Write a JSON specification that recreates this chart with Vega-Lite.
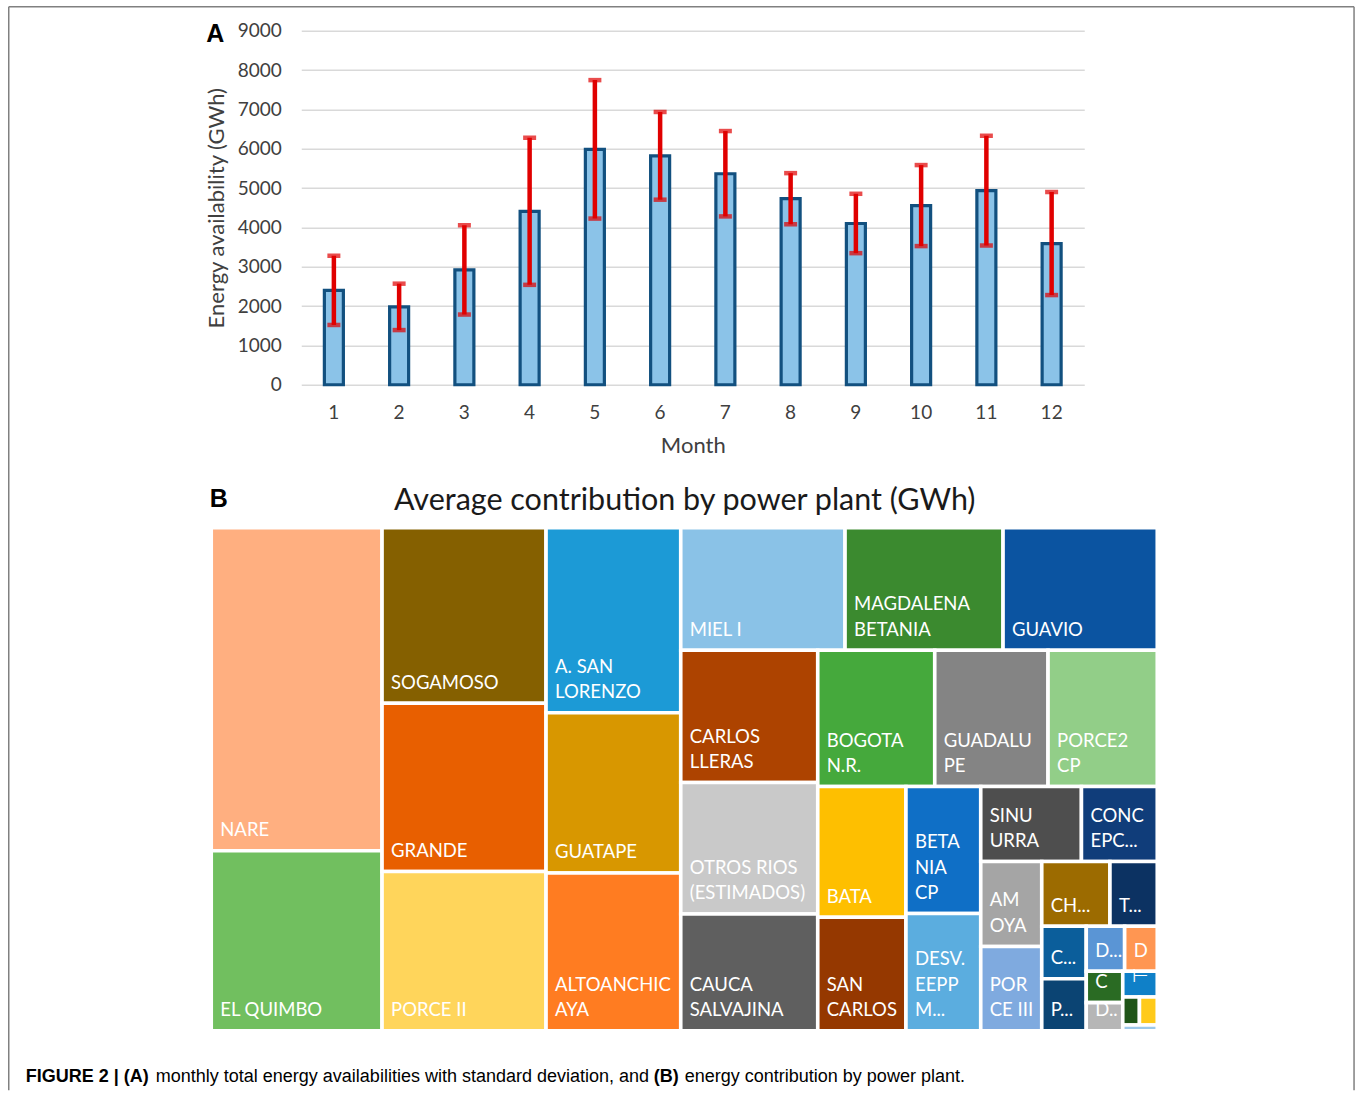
{
  "$schema": "https://vega.github.io/schema/vega-lite/v6.json",
  "background": "white",
  "padding": {"left": 7.25, "top": 5.75, "right": 0, "bottom": 0},
  "autosize": {"type": "pad"},
  "config": {"view": {"stroke": null}, "font": "Lato"},
  "bounds": "flush",
  "spacing": 497,
  "vconcat": [
    {
      "bounds": "flush",
      "spacing": 0,
      "hconcat": [
        {
          "width": 90,
          "height": 354,
          "data": {"values": []},
          "mark": "point",
          "encoding": {}
        },
        {
          "width": 783,
          "height": 354,
          "title": {
            "text": "A",
            "anchor": "start",
            "frame": "bounds",
            "font": "Liberation Sans",
            "fontSize": 25,
            "fontWeight": "bold",
            "color": "#000000",
            "dx": 1,
            "dy": 29
          },
          "data": {
            "values": [
              {"month": 1, "energy": 2400, "sd": 880},
              {"month": 2, "energy": 1980, "sd": 590},
              {"month": 3, "energy": 2920, "sd": 1135},
              {"month": 4, "energy": 4410, "sd": 1870},
              {"month": 5, "energy": 5985, "sd": 1760},
              {"month": 6, "energy": 5820, "sd": 1115},
              {"month": 7, "energy": 5365, "sd": 1085},
              {"month": 8, "energy": 4730, "sd": 650},
              {"month": 9, "energy": 4100, "sd": 755},
              {"month": 10, "energy": 4555, "sd": 1030},
              {"month": 11, "energy": 4935, "sd": 1395},
              {"month": 12, "energy": 3590, "sd": 1310}
            ]
          },
          "encoding": {
            "x": {
              "field": "month",
              "type": "ordinal",
              "scale": {"paddingInner": 0.6, "paddingOuter": 0.3},
              "axis": {
                "title": "Month",
                "labelAngle": 0,
                "labelFont": "Lato",
                "labelFontSize": 19,
                "labelColor": "#404040",
                "labelPadding": 19,
                "ticks": false,
                "domain": false,
                "titleFont": "Lato",
                "titleFontSize": 22,
                "titleFontWeight": "normal",
                "titleColor": "#404040",
                "titlePadding": 13
              }
            },
            "y": {
              "field": "energy",
              "type": "quantitative",
              "scale": {"domain": [0, 9000], "nice": false},
              "axis": {
                "title": "Energy availability (GWh)",
                "values": [0, 1000, 2000, 3000, 4000, 5000, 6000, 7000, 8000, 9000],
                "format": "d",
                "labelFont": "Lato",
                "labelFontSize": 19,
                "labelColor": "#404040",
                "labelPadding": 20,
                "ticks": false,
                "domain": false,
                "grid": true,
                "gridColor": "#D9D9D9",
                "gridWidth": 1.6,
                "titleFont": "Lato",
                "titleFontSize": 22,
                "titleFontWeight": "normal",
                "titleColor": "#404040",
                "titlePadding": 9
              }
            }
          },
          "layer": [
            {
              "mark": {"type": "bar", "width": 19, "fill": "#8BC3E8", "stroke": "#12507F", "strokeWidth": 3.2}
            },
            {
              "mark": {"type": "errorbar", "ticks": true, "size": 13, "thickness": 4.5, "color": "#E00000"},
              "encoding": {"yError": {"field": "sd"}}
            }
          ]
        }
      ]
    },
    {
      "width": 946,
      "height": 503,
      "data": {
        "values": [
          {"key": "NARE", "label": "NARE", "x0": 0, "x1": 18.055, "y0": 0, "y1": 64.215},
          {"key": "EL QUIMBO", "label": "EL QUIMBO", "x0": 0, "x1": 18.055, "y0": 64.215, "y1": 100},
          {"key": "SOGAMOSO", "label": "SOGAMOSO", "x0": 18.055, "x1": 35.391, "y0": 0, "y1": 34.891},
          {"key": "GRANDE", "label": "GRANDE", "x0": 18.055, "x1": 35.391, "y0": 34.891, "y1": 68.35},
          {"key": "PORCE II", "label": "PORCE II", "x0": 18.055, "x1": 35.391, "y0": 68.35, "y1": 100},
          {"key": "A. SAN LORENZO", "label": "A. SAN\nLORENZO", "x0": 35.391, "x1": 49.63, "y0": 0, "y1": 36.779},
          {"key": "GUATAPE", "label": "GUATAPE", "x0": 35.391, "x1": 49.63, "y0": 36.779, "y1": 68.628},
          {"key": "ALTOANCHICAYA", "label": "ALTOANCHIC\nAYA", "x0": 35.391, "x1": 49.63, "y0": 68.628, "y1": 100},
          {"key": "MIEL I", "label": "MIEL I", "x0": 49.63, "x1": 66.998, "y0": 0, "y1": 24.354},
          {"key": "MAGDALENA BETANIA", "label": "MAGDALENA\nBETANIA", "x0": 66.998, "x1": 83.7, "y0": 0, "y1": 24.354},
          {"key": "GUAVIO", "label": "GUAVIO", "x0": 83.7, "x1": 100, "y0": 0, "y1": 24.354},
          {"key": "CARLOS LLERAS", "label": "CARLOS\nLLERAS", "x0": 49.63, "x1": 64.112, "y0": 24.354, "y1": 50.656},
          {"key": "OTROS RIOS", "label": "OTROS RIOS\n(ESTIMADOS)", "x0": 49.63, "x1": 64.112, "y0": 50.656, "y1": 76.779},
          {"key": "CAUCA SALVAJINA", "label": "CAUCA\nSALVAJINA", "x0": 49.63, "x1": 64.112, "y0": 76.779, "y1": 100},
          {"key": "BOGOTA N.R.", "label": "BOGOTA\nN.R.", "x0": 64.112, "x1": 76.48, "y0": 24.354, "y1": 51.451},
          {"key": "GUADALUPE", "label": "GUADALU\nPE", "x0": 76.48, "x1": 88.457, "y0": 24.354, "y1": 51.451},
          {"key": "PORCE2 CP", "label": "PORCE2\nCP", "x0": 88.457, "x1": 100, "y0": 24.354, "y1": 51.451},
          {"key": "BATA", "label": "BATA", "x0": 64.112, "x1": 73.436, "y0": 51.451, "y1": 77.435},
          {"key": "SAN CARLOS", "label": "SAN\nCARLOS", "x0": 64.112, "x1": 73.436, "y0": 77.435, "y1": 100},
          {"key": "BETANIA CP", "label": "BETA\nNIA\nCP", "x0": 73.436, "x1": 81.342, "y0": 51.451, "y1": 76.7},
          {"key": "DESV. EEPP M", "label": "DESV.\nEEPP\nM...", "x0": 73.436, "x1": 81.342, "y0": 76.7, "y1": 100},
          {"key": "SINU URRA", "label": "SINU\nURRA", "x0": 81.342, "x1": 91.987, "y0": 51.451, "y1": 66.362},
          {"key": "CONC EPC", "label": "CONC\nEPC...", "x0": 91.987, "x1": 100, "y0": 51.451, "y1": 66.362},
          {"key": "AMOYA", "label": "AM\nOYA", "x0": 81.342, "x1": 87.791, "y0": 66.362, "y1": 83.241},
          {"key": "PORCE III", "label": "POR\nCE III", "x0": 81.342, "x1": 87.791, "y0": 83.241, "y1": 100},
          {"key": "CH", "label": "CH...", "x0": 87.791, "x1": 95.0, "y0": 66.362, "y1": 79.225},
          {"key": "T", "label": "T...", "x0": 95.0, "x1": 100, "y0": 66.362, "y1": 79.225},
          {"key": "C1", "label": "C...", "x0": 87.791, "x1": 92.495, "y0": 79.225, "y1": 89.662},
          {"key": "P", "label": "P...", "x0": 87.791, "x1": 92.495, "y0": 89.662, "y1": 100},
          {"key": "D1", "label": "D...", "x0": 92.495, "x1": 96.554, "y0": 79.225, "y1": 88.171},
          {"key": "D2", "label": "D", "x0": 96.554, "x1": 100, "y0": 79.225, "y1": 88.171},
          {"key": "C2", "label": "C", "x0": 92.495, "x1": 96.353, "y0": 88.171, "y1": 94.414},
          {"key": "D3", "label": "D..", "x0": 92.495, "x1": 96.353, "y0": 94.414, "y1": 100},
          {"key": "F", "label": "⊢", "x0": 96.353, "x1": 100, "y0": 88.171, "y1": 93.28},
          {"key": "G", "label": "", "x0": 96.353, "x1": 98.118, "y0": 93.28, "y1": 98.847},
          {"key": "H", "label": "", "x0": 98.118, "x1": 100, "y0": 93.28, "y1": 98.847},
          {"key": "I", "label": "", "x0": 96.353, "x1": 100, "y0": 98.847, "y1": 100}
        ]
      },
      "layer": [
        {
          "mark": {"type": "rect", "stroke": "#FFFFFF", "strokeWidth": 3.6},
          "encoding": {
            "x": {"field": "x0", "type": "quantitative", "scale": {"domain": [0, 100], "nice": false, "zero": false}, "axis": null},
            "x2": {"field": "x1"},
            "y": {"field": "y0", "type": "quantitative", "scale": {"domain": [0, 100], "nice": false, "zero": false, "reverse": true}, "axis": null},
            "y2": {"field": "y1"},
            "color": {
              "field": "key",
              "type": "nominal",
              "legend": null,
              "scale": {
                "domain": ["NARE", "EL QUIMBO", "SOGAMOSO", "GRANDE", "PORCE II", "A. SAN LORENZO", "GUATAPE", "ALTOANCHICAYA", "MIEL I", "MAGDALENA BETANIA", "GUAVIO", "CARLOS LLERAS", "OTROS RIOS", "CAUCA SALVAJINA", "BOGOTA N.R.", "GUADALUPE", "PORCE2 CP", "BATA", "SAN CARLOS", "BETANIA CP", "DESV. EEPP M", "SINU URRA", "CONC EPC", "AMOYA", "PORCE III", "CH", "T", "C1", "P", "D1", "D2", "C2", "D3", "F", "G", "H", "I"],
                "range": ["#FFAF80", "#71BF5F", "#856000", "#E85F00", "#FFD55B", "#1C9AD6", "#D89700", "#FF7C21", "#8AC2E7", "#3B8A2F", "#0B54A1", "#AD4300", "#C9C9C9", "#5F5F5F", "#45A93C", "#848484", "#92CE88", "#FEBF00", "#953800", "#0F6FC6", "#5BADDF", "#4E4E4E", "#103D7A", "#A5A5A5", "#7FAADF", "#9C6B00", "#0C3262", "#0B5E9B", "#0B4473", "#5A95D5", "#FF9652", "#2A6B23", "#B6B6B6", "#0F80C8", "#1F5518", "#FFCA1A", "#9CC8EA"]
              }
            }
          }
        },
        {
          "transform": [{"filter": "length(split(datum.label, '\\n')) == 1"}],
          "mark": {"type": "text", "align": "left", "baseline": "bottom", "dx": 9, "dy": -10.5, "font": "Lato", "fontSize": 18.5, "lineBreak": "\n", "lineHeight": 25.5, "fill": "#FFFFFF"},
          "encoding": {
            "x": {"field": "x0", "type": "quantitative"},
            "y": {"field": "y1", "type": "quantitative"},
            "text": {"field": "label", "type": "nominal"}
          }
        },
        {
          "transform": [{"filter": "length(split(datum.label, '\\n')) == 2"}],
          "mark": {"type": "text", "align": "left", "baseline": "bottom", "dx": 9, "dy": -36, "font": "Lato", "fontSize": 18.5, "lineBreak": "\n", "lineHeight": 25.5, "fill": "#FFFFFF"},
          "encoding": {
            "x": {"field": "x0", "type": "quantitative"},
            "y": {"field": "y1", "type": "quantitative"},
            "text": {"field": "label", "type": "nominal"}
          }
        },
        {
          "transform": [{"filter": "length(split(datum.label, '\\n')) == 3"}],
          "mark": {"type": "text", "align": "left", "baseline": "bottom", "dx": 9, "dy": -61.5, "font": "Lato", "fontSize": 18.5, "lineBreak": "\n", "lineHeight": 25.5, "fill": "#FFFFFF"},
          "encoding": {
            "x": {"field": "x0", "type": "quantitative"},
            "y": {"field": "y1", "type": "quantitative"},
            "text": {"field": "label", "type": "nominal"}
          }
        },
        {
          "data": {"values": [{}]},
          "mark": {"type": "text", "align": "left", "baseline": "alphabetic", "font": "Liberation Sans", "fontSize": 25, "fontWeight": "bold", "fill": "#000000"},
          "encoding": {"x": {"datum": -0.159}, "y": {"datum": -4.076}, "text": {"value": "B"}}
        },
        {
          "data": {"values": [{}]},
          "mark": {"type": "text", "align": "center", "baseline": "alphabetic", "font": "Lato", "fontSize": 30.5, "fill": "#1A1A1A"},
          "encoding": {"x": {"datum": 50.05}, "y": {"datum": -3.58}, "text": {"value": "Average contribution by power plant (GWh)"}}
        },
        {
          "data": {"values": [{}]},
          "mark": {"type": "text", "align": "left", "baseline": "alphabetic", "font": "Liberation Sans", "fontSize": 18, "fontWeight": "bold", "fill": "#000000"},
          "encoding": {"x": {"datum": -19.609}, "y": {"datum": 110.24}, "text": {"value": "FIGURE 2 | (A)"}}
        },
        {
          "data": {"values": [{}]},
          "mark": {"type": "text", "align": "left", "baseline": "alphabetic", "font": "Liberation Sans", "fontSize": 18, "fill": "#000000"},
          "encoding": {"x": {"datum": -5.867}, "y": {"datum": 110.24}, "text": {"value": "monthly total energy availabilities with standard deviation, and"}}
        },
        {
          "data": {"values": [{}]},
          "mark": {"type": "text", "align": "left", "baseline": "alphabetic", "font": "Liberation Sans", "fontSize": 18, "fontWeight": "bold", "fill": "#000000"},
          "encoding": {"x": {"datum": 46.776}, "y": {"datum": 110.24}, "text": {"value": "(B)"}}
        },
        {
          "data": {"values": [{}]},
          "mark": {"type": "text", "align": "left", "baseline": "alphabetic", "font": "Liberation Sans", "fontSize": 18, "fill": "#000000"},
          "encoding": {"x": {"datum": 50.053}, "y": {"datum": 110.24}, "text": {"value": "energy contribution by power plant."}}
        },
        {
          "data": {"values": [{}]},
          "mark": {"type": "rule", "color": "#808080", "strokeWidth": 1.5},
          "encoding": {"x": {"datum": -21.406}, "x2": {"datum": 120.803}, "y": {"datum": -103.579}}
        },
        {
          "data": {"values": [{}]},
          "mark": {"type": "rule", "color": "#808080", "strokeWidth": 1.5},
          "encoding": {"x": {"datum": -21.406}, "y": {"datum": -103.579}, "y2": {"datum": 111.829}}
        },
        {
          "data": {"values": [{}]},
          "mark": {"type": "rule", "color": "#808080", "strokeWidth": 1.5},
          "encoding": {"x": {"datum": 120.803}, "y": {"datum": -103.579}, "y2": {"datum": 111.829}}
        }
      ]
    }
  ]
}
